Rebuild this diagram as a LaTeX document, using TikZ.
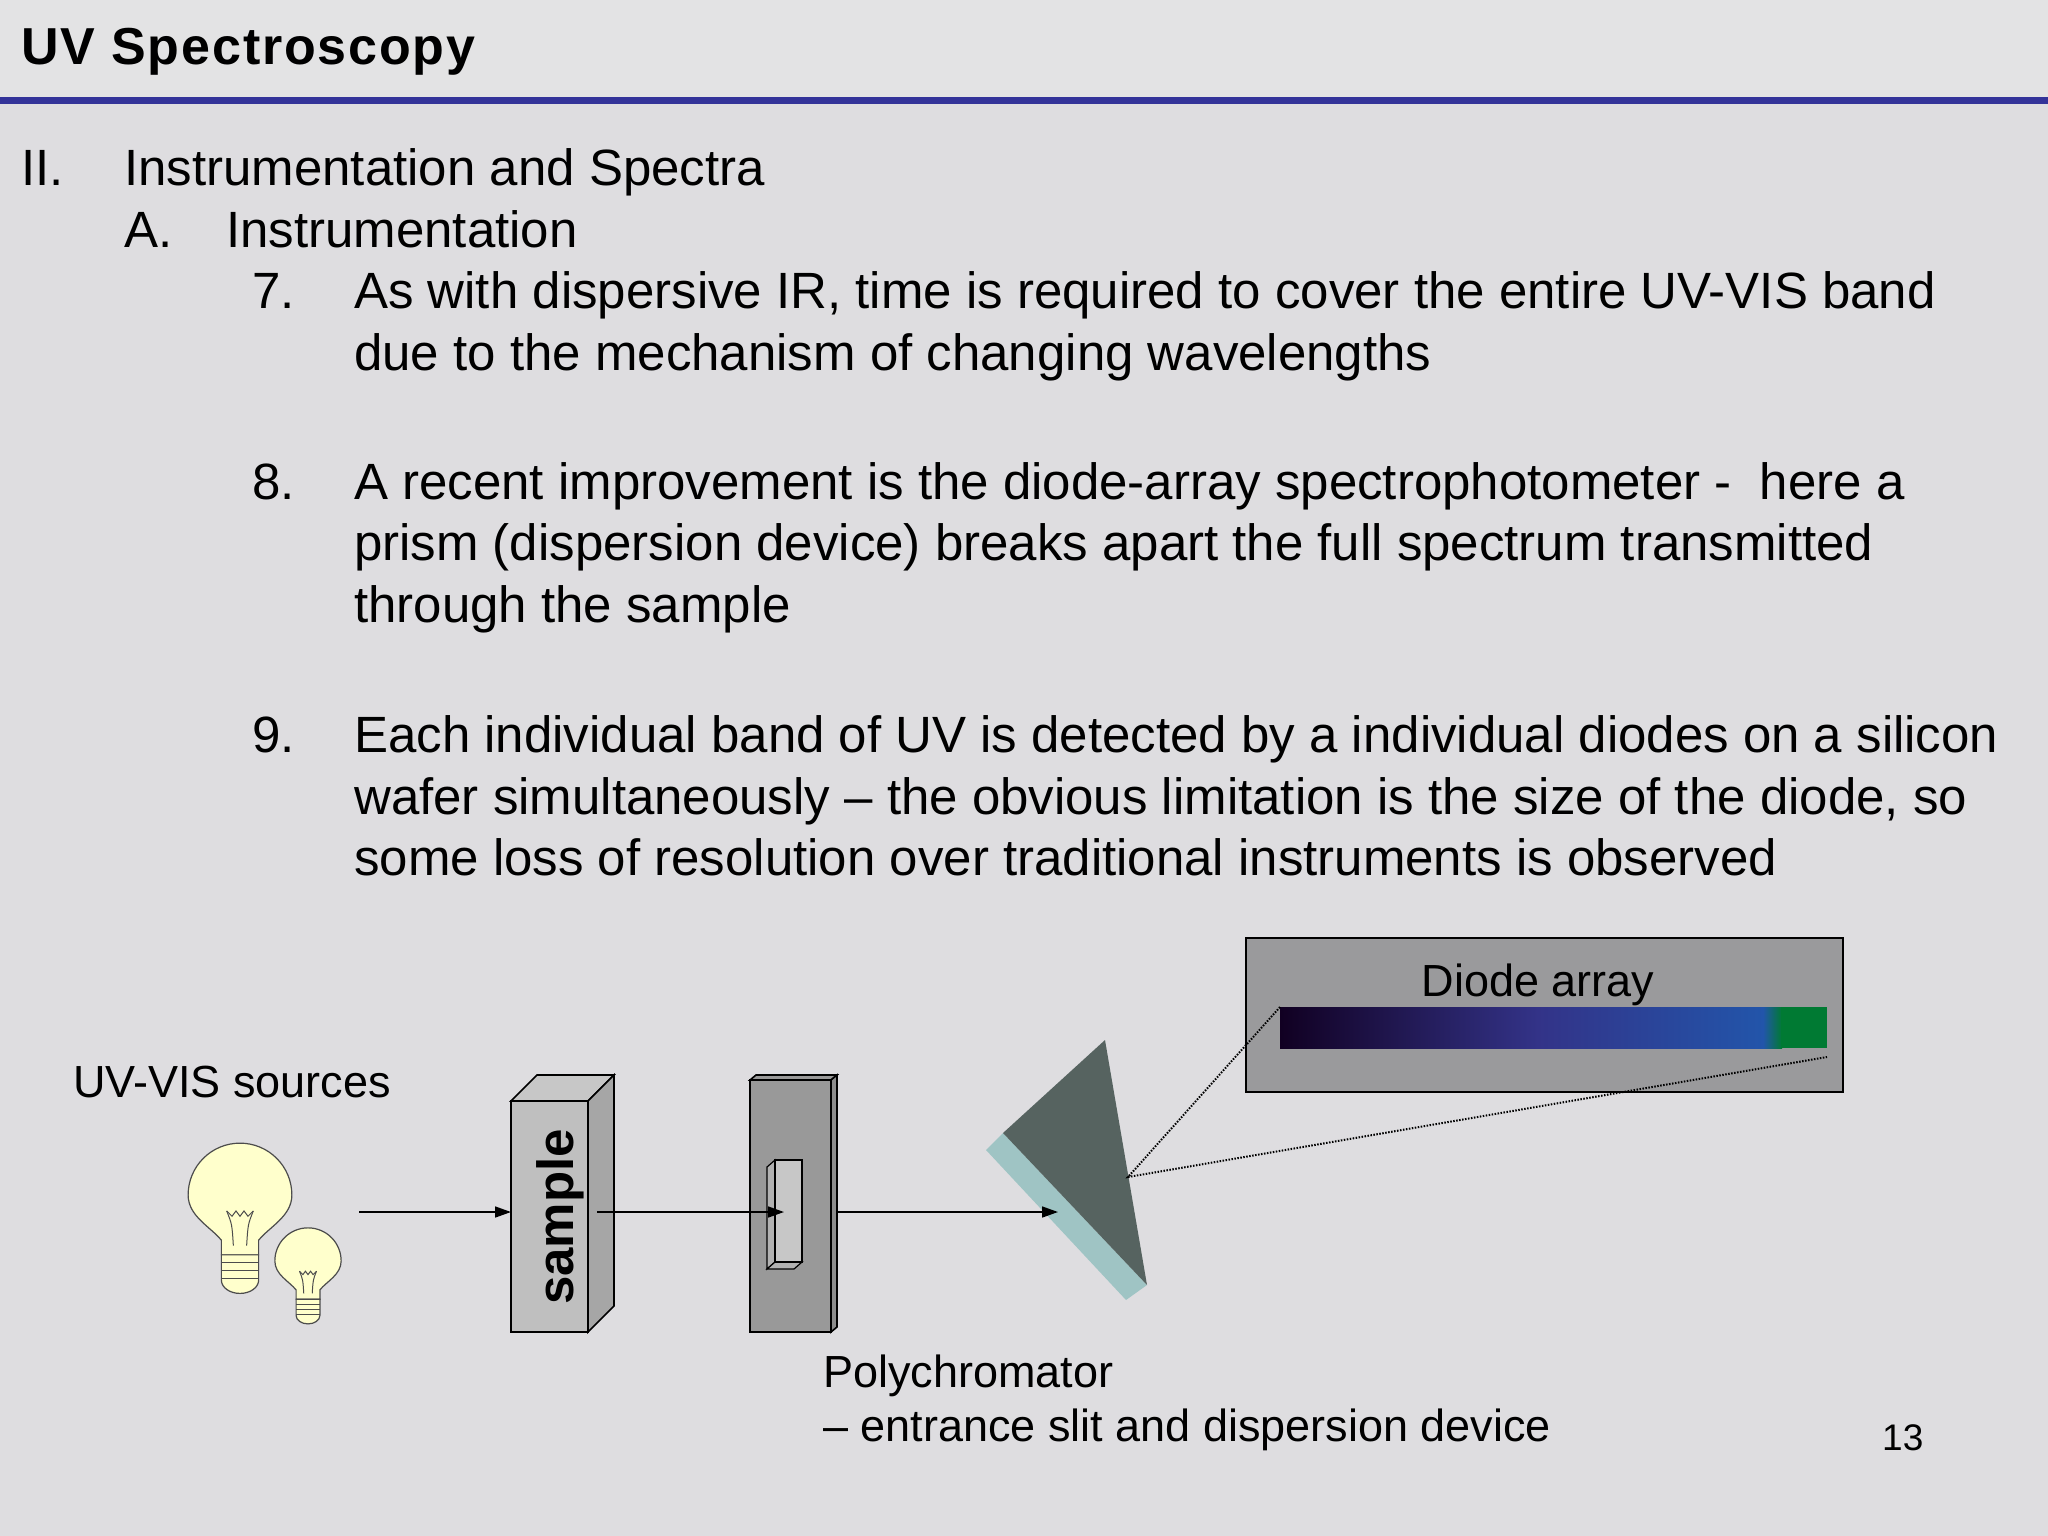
\documentclass[tikz,border=0pt]{standalone}
\usepackage{fontspec}
\setmainfont{Liberation Sans}
\usetikzlibrary{arrows.meta}
\definecolor{bg}{HTML}{DEDDE0}
\definecolor{head}{HTML}{E3E3E4}
\definecolor{rule}{HTML}{333399}
\definecolor{bulbfill}{HTML}{FFFFCC}
\definecolor{prismdark}{HTML}{566360}
\definecolor{prismlight}{HTML}{9FC4C4}
\definecolor{boxgray}{HTML}{9A9A9C}
\definecolor{g1}{HTML}{110022}
\definecolor{g2}{HTML}{333388}
\definecolor{g3}{HTML}{2255AA}
\definecolor{g4}{HTML}{007A33}
\tikzset{
  body/.style={anchor=base west, inner sep=0pt, font=\fontsize{51}{60}\selectfont},
  small/.style={anchor=base west, inner sep=0pt, font=\fontsize{45}{54}\selectfont},
  ray/.style={line width=1.6pt, -{Triangle[length=16pt,width=11pt]}},
  outl/.style={draw=black, line width=1.6pt},
  bulb/.pic={
    \draw[fill=bulbfill, draw=black!70, line width=1.2pt]
      (-14,34) .. controls (-22,24) and (-39,16) .. (-39,0) arc(180:360:39)
      .. controls (39,16) and (22,24) .. (14,34) -- (14,45) -- (-14,45) -- cycle;
    \draw[fill=bulbfill, draw=black!70, line width=1.2pt]
      (-14,45) -- (14,45) -- (14,64) arc[start angle=0, end angle=180, x radius=14, y radius=10] -- cycle;
    \foreach \yy in {51,57,63} \draw[black!70, line width=1pt] (-14,\yy) -- (14,\yy);
    \draw[black!70, line width=1pt] (-10,12) -- (-6,16) -- (-3,12) -- (0,16) -- (3,12) -- (6,16) -- (10,12);
    \draw[black!70, line width=1pt] (-10,12) .. controls (-6,22) .. (-5,38);
    \draw[black!70, line width=1pt] (10,12) .. controls (6,22) .. (5,38);
  }
}
\begin{document}
\begin{tikzpicture}[x=1pt,y=-1pt]
\fill[bg] (0,0) rectangle (2048,1536);
\useasboundingbox (0,0) rectangle (2048,1536);
\fill[head] (0,0) rectangle (2048,98);
\fill[rule] (0,97) rectangle (2048,104);
\node[anchor=base west, inner sep=0pt, font=\fontsize{52}{60}\bfseries\addfontfeature{LetterSpace=3.5}] (title) at (21,65) {UV Spectroscopy};

% outline text
\node[body] (n2) at (21,185) {II.};
\node[body] (t2) at (124,185) {Instrumentation and Spectra};
\node[body] (nA) at (124,247) {A.};
\node[body] (tA) at (226,247) {Instrumentation};
\node[body] (n7) at (252,308) {7.};
\node[body] (t7a) at (354,308) {As with dispersive IR, time is required to cover the entire UV-VIS band};
\node[body] (t7b) at (354,370) {due to the mechanism of changing wavelengths};
\node[body] (n8) at (252,499) {8.};
\node[body] (t8a) at (354,499) {A recent improvement is the diode-array spectrophotometer -\ \ here a};
\node[body] (t8b) at (354,560) {prism (dispersion device) breaks apart the full spectrum transmitted};
\node[body] (t8c) at (354,622) {through the sample};
\node[body] (n9) at (252,752) {9.};
\node[body] (t9a) at (354,752) {Each individual band of UV is detected by a individual diodes on a silicon};
\node[body] (t9b) at (354,814) {wafer simultaneously -- the obvious limitation is the size of the diode, so};
\node[body] (t9c) at (354,875) {some loss of resolution over traditional instruments is observed};

% sources
\node[small] (src) at (73,1097) {UV-VIS sources};
\pic[scale=1.33] at (240,1195) {bulb};
\pic[scale=0.85] at (308,1261) {bulb};

% sample cuvette
\filldraw[outl, fill=black!22] (511,1101) -- (537,1075) -- (614,1075) -- (588,1101) -- cycle;
\filldraw[outl, fill=black!35] (588,1101) -- (614,1075) -- (614,1306) -- (588,1332) -- cycle;
\filldraw[outl, fill=black!25] (511,1101) rectangle (588,1332);
\node[rotate=90, font=\fontsize{51}{55}\bfseries, inner sep=0pt] (sample) at (560,1217) {sample};

% entrance slit
\filldraw[outl, fill=black!40] (750,1080) -- (756,1075) -- (837,1075) -- (831,1080) -- cycle;
\filldraw[outl, fill=black!45] (831,1080) -- (837,1075) -- (837,1327) -- (831,1332) -- cycle;
\filldraw[outl, fill=black!40] (750,1080) rectangle (831,1332);
\filldraw[draw=black, line width=1.2pt, fill=black!30] (767,1167) -- (775,1160) -- (775,1262) -- (767,1269) -- cycle;
\filldraw[draw=black, line width=1.2pt, fill=black!30] (767,1269) -- (775,1262) -- (802,1262) -- (794,1269) -- cycle;
\filldraw[draw=black, line width=1.2pt, fill=black!22] (775,1160) rectangle (802,1262);

% prism
\fill[prismlight] (1003,1133) -- (986,1150) -- (1126,1300) -- (1147,1285) -- cycle;
\fill[prismdark] (1105,1040) -- (1003,1133) -- (1147,1285) -- cycle;

% rays
\coordinate (r0) at (359,1212);
\coordinate (r1) at (597,1212);
\coordinate (r2) at (837,1212);
\draw[ray] (r0) -- (511,1212);
\draw[ray] (r1) -- (784,1212);
\draw[ray] (r2) -- (1058,1212);

% diode array
\filldraw[draw=black, line width=2pt, fill=boxgray] (1246,938) rectangle (1843,1092);
\node[small, anchor=base] (da) at (1538,996) {Diode array};
\shade[left color=g1, right color=g2] (1280,1007) rectangle (1538,1048);
\shade[left color=g2, right color=g3] (1537,1007) rectangle (1764,1048);
\shade[left color=g3, right color=g4] (1763,1007) rectangle (1782,1048);
\fill[g4] (1781,1007) rectangle (1827,1048);
\coordinate (pf) at (1128,1177);
\coordinate (bl) at (1280,1007);
\coordinate (br) at (1827,1057);
\draw[dash pattern=on 1.5pt off 1.5pt, line width=2pt] (bl) -- (pf) -- (br);

% captions
\node[small] (poly) at (823,1387) {Polychromator};
\node[small] (polyb) at (823,1441) {-- entrance slit and dispersion device};
\node[anchor=base west, inner sep=0pt, font=\fontsize{37}{40}\selectfont] (page) at (1882,1450) {13};
\end{tikzpicture}
\end{document}
